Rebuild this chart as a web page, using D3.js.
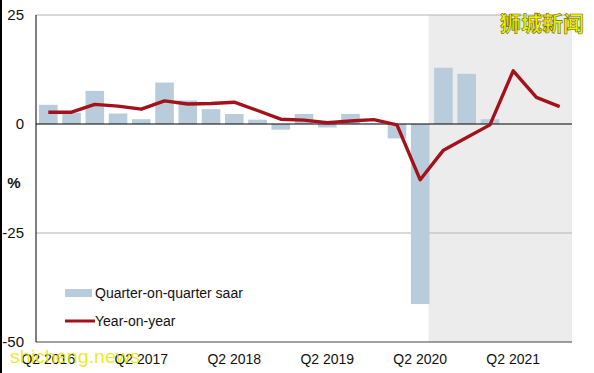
<!DOCTYPE html>
<html>
<head>
<meta charset="utf-8">
<script src="https://cdn.jsdelivr.net/npm/d3@7"></script>
<style>
  body { margin: 0; background: #fff; }
  svg { display: block; font-family: "Liberation Sans", Arial, sans-serif; }
</style>
</head>
<body>
<svg id="chart" width="594" height="373"></svg>
<script>
// quarters Q2 2016 .. Q4 2021
const quarters = [
  'Q2 2016', 'Q3 2016', 'Q4 2016', 'Q1 2017', 'Q2 2017', 'Q3 2017', 'Q4 2017', 'Q1 2018',
  'Q2 2018', 'Q3 2018', 'Q4 2018', 'Q1 2019', 'Q2 2019', 'Q3 2019', 'Q4 2019', 'Q1 2020',
  'Q2 2020', 'Q3 2020', 'Q4 2020', 'Q1 2021', 'Q2 2021', 'Q3 2021', 'Q4 2021'
];
const qoqSaar = [4.4, 2.6, 7.6, 2.4, 1.1, 9.5, 5.4, 3.4, 2.3, 1.0, -1.3, 2.3, -0.8, 2.3, 0.1, -3.3,
  -41.3, 12.9, 11.5, 1.1, null, null, null];
const yoy = [2.7, 2.7, 4.5, 4.1, 3.4, 5.3, 4.6, 4.7, 5.0, 3.1, 1.1, 0.9, 0.3, 0.7, 1.0, -0.2,
  -12.8, -6.0, -3.1, -0.2, 12.2, 6.1, 4.0];
const tickLabels = ['Q2 2016', 'Q2 2017', 'Q2 2018', 'Q2 2019', 'Q2 2020', 'Q2 2021'];
const yTicks = [25, 0, -25, -50];
const shadeFrom = 'Q3 2020';
const legendNames = ['Quarter-on-quarter saar', 'Year-on-year'];

const barColor = '#b8ccdc';
const lineColor = '#a3121b';

const svg = d3.select('#chart');
const plotLeft = 36, plotRight = 572, plotTop = 15, plotBottom = 342;

const x = d3.scaleBand().domain(quarters).range([plotLeft, plotRight])
  .paddingInner(0.2).paddingOuter(0.13);
const y = d3.scaleLinear().domain([-50, 25]).range([plotBottom, plotTop]);

// outer border on left
svg.append('line')
  .attr('x1', 1).attr('x2', 1).attr('y1', 0).attr('y2', 373)
  .attr('stroke', '#000').attr('stroke-width', 2);

// shaded forecast area
const shadeX = x(shadeFrom) - x.step() * x.paddingInner() - 1;
svg.append('rect')
  .attr('x', shadeX).attr('y', y(25))
  .attr('width', plotRight - shadeX).attr('height', y(-50) - y(25))
  .attr('fill', '#ececec');

// grid lines
svg.selectAll('.grid')
  .data([25, -25])
  .enter()
  .append('line')
  .attr('x1', plotLeft).attr('x2', plotRight)
  .attr('y1', d => y(d)).attr('y2', d => y(d))
  .attr('stroke', '#b4b4b4').attr('stroke-width', 1);

// bars
svg.selectAll('.bar')
  .data(quarters.map((q, i) => ({ q: q, v: qoqSaar[i] })).filter(d => d.v != null))
  .enter()
  .append('rect')
  .attr('x', d => x(d.q))
  .attr('width', x.bandwidth())
  .attr('y', d => y(Math.max(0, d.v)))
  .attr('height', d => Math.abs(y(d.v) - y(0)))
  .attr('fill', barColor);

// zero line and axes
svg.append('line')
  .attr('x1', plotLeft).attr('x2', plotRight).attr('y1', y(0)).attr('y2', y(0))
  .attr('stroke', '#000').attr('stroke-width', 1);
svg.append('line')
  .attr('x1', plotLeft).attr('x2', plotRight).attr('y1', y(-50)).attr('y2', y(-50))
  .attr('stroke', '#444').attr('stroke-width', 1);
svg.append('line')
  .attr('x1', plotLeft).attr('x2', plotLeft).attr('y1', y(25)).attr('y2', y(-50))
  .attr('stroke', '#000').attr('stroke-width', 1);

// year-on-year line
const line = d3.line()
  .x((d, i) => x(quarters[i]) + x.bandwidth() / 2)
  .y(d => y(d));
svg.append('path')
  .datum(yoy)
  .attr('d', line)
  .attr('fill', 'none')
  .attr('stroke', lineColor)
  .attr('stroke-width', 3.4)
  .attr('stroke-linejoin', 'round');

// y tick labels
svg.selectAll('.ytick')
  .data(yTicks)
  .enter()
  .append('text')
  .attr('x', 24)
  .attr('y', d => y(d) + 5)
  .attr('text-anchor', 'end')
  .attr('font-size', 15)
  .attr('fill', '#111')
  .text(d => d);

svg.append('text')
  .attr('x', 14).attr('y', 188)
  .attr('text-anchor', 'middle')
  .attr('font-size', 15).attr('font-weight', 'bold')
  .attr('fill', '#111')
  .text('%');

// x tick labels
svg.selectAll('.xtick')
  .data(tickLabels)
  .enter()
  .append('text')
  .attr('x', d => x(d) + x.bandwidth() / 2)
  .attr('y', 364)
  .attr('text-anchor', 'middle')
  .attr('font-size', 14)
  .attr('fill', '#111')
  .text(d => d);

// legend
const legend = svg.append('g');
legend.append('rect')
  .attr('x', 65).attr('y', 289).attr('width', 27).attr('height', 8)
  .attr('fill', barColor);
legend.append('line')
  .attr('x1', 65).attr('x2', 95).attr('y1', 321).attr('y2', 321)
  .attr('stroke', lineColor).attr('stroke-width', 3);
legend.selectAll('text')
  .data(legendNames)
  .enter()
  .append('text')
  .attr('x', 95)
  .attr('y', (d, i) => 298 + i * 28)
  .attr('font-size', 14)
  .attr('fill', '#111')
  .text(d => d);

// watermarks
svg.append('text')
  .attr('x', 584).attr('y', 31)
  .attr('text-anchor', 'end')
  .attr('font-family', '"Noto Sans CJK SC"')
  .attr('font-size', 21).attr('font-weight', 'bold')
  .attr('fill', '#f2f200')
  .attr('stroke', '#6b6b00').attr('stroke-width', 0.6)
  .text('狮城新闻');
svg.append('text')
  .attr('x', 10).attr('y', 363)
  .attr('font-size', 19)
  .attr('textLength', 130)
  .attr('lengthAdjust', 'spacingAndGlyphs')
  .attr('fill', '#e6e600')
  .attr('fill-opacity', 0.85)
  .text('shicheng.news');
</script>
</body>
</html>
